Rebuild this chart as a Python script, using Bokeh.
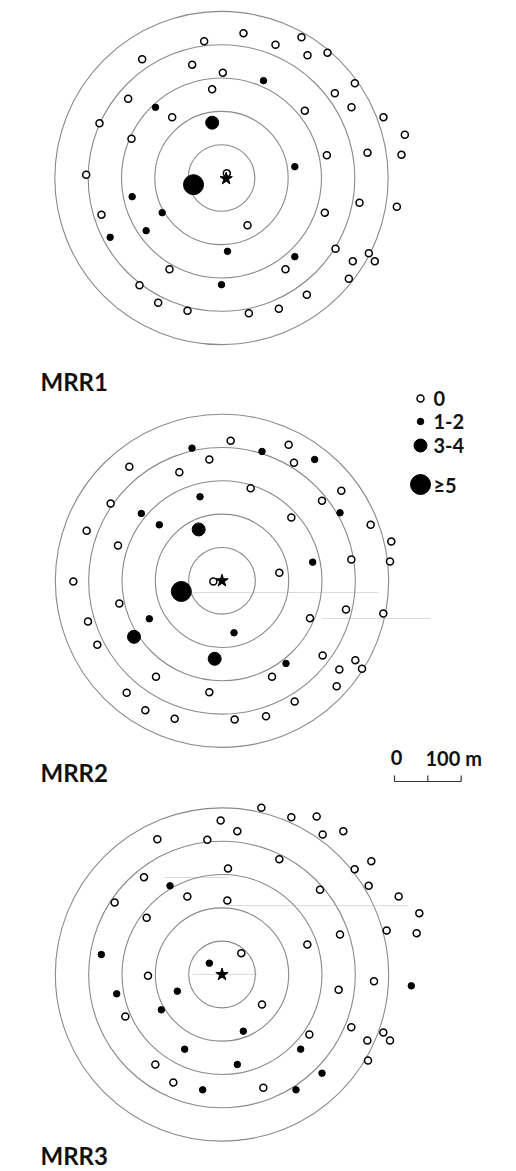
from bokeh.plotting import figure
from bokeh.core.properties import value
from bokeh.embed import file_html
from bokeh.resources import INLINE

# Recapture sites around each release point (metres east, metres north),
# grouped by the number of marked insects recaptured at the site.
RING_RADII_M = [50, 100, 150, 200, 250]

MRR1_0 = [(33, 217), (-26, 205), (2, 158), (-119, 178), (-44, 170), (-14, 133),
          (-140, 119), (-183, 82), (-74, 91), (-135, 59), (-203, 5), (8, 7),
          (120, 211), (81, 200), (129, 184), (159, 188), (200, 142), (170, 127),
          (195, 106), (125, 101), (243, 91), (275, 65), (219, 38), (270, 35),
          (158, 34), (-180, -55), (39, -71), (-78, -137), (-123, -161), (-95, -187),
          (-51, -199), (41, -203), (155, -52), (207, -37), (263, -43), (171, -106),
          (221, -113), (197, -125), (230, -125), (96, -137), (191, -151), (128, -175),
          (86, -196)]
MRR1_1_2 = [(-99, 106), (63, 146), (110, 17), (-134, -28), (-89, -52), (-113, -79),
            (-167, -89), (9, -110), (0, -160), (110, -118)]
MRR1_3_4 = [(-14, 83)]
MRR1_5 = [(-42, -10)]
MRR1_RELEASE = (7, -1)

MRR2_0 = [(13, 210), (100, 204), (108, 177), (-139, 171), (-64, 163), (-19, 182),
          (43, 139), (179, 135), (150, 120), (-167, 116), (104, 95), (-203, 75),
          (223, 84), (-156, 53), (254, 59), (194, 32), (252, 29), (86, 12),
          (-223, -1), (-13, -1), (-154, -34), (-201, -61), (132, -56), (186, -43),
          (242, -49), (-187, -96), (151, -112), (200, -119), (176, -133), (210, -132),
          (-99, -144), (75, -144), (172, -158), (-143, -168), (-19, -167), (109, -181),
          (-115, -194), (-71, -207), (19, -208), (66, -203)]
MRR2_1_2 = [(-45, 199), (60, 194), (139, 182), (-33, 126), (-121, 101), (177, 102),
            (-94, 84), (136, 28), (-109, -57), (18, -78), (96, -124)]
MRR2_3_4 = [(-35, 77), (-132, -84), (-11, -117)]
MRR2_5 = [(-61, -16)]
MRR2_RELEASE = (0, 0)

MRR3_0 = [(59, 250), (104, 236), (142, 237), (-2, 231), (23, 215), (151, 210),
          (182, 215), (-97, 203), (-22, 202), (86, 173), (224, 170), (199, 158),
          (9, 159), (-117, 146), (220, 133), (147, 127), (265, 117), (-52, 117),
          (8, 111), (-161, 108), (296, 92), (-113, 85), (247, 66), (292, 62),
          (177, 60), (128, 45), (29, 32), (-111, -2), (228, -10), (175, -23),
          (60, -45), (-145, -63), (194, -79), (242, -87), (218, -99), (252, -99),
          (131, -90), (-100, -135), (219, -129), (-73, -162), (62, -170)]
MRR3_1_2 = [(-78, 133), (-181, 30), (-19, 17), (284, -17), (-158, -29), (-67, -25),
            (-91, -53), (32, -85), (-56, -112), (118, -112), (23, -135), (150, -148),
            (-29, -173), (111, -173)]
MRR3_3_4 = []
MRR3_5 = []
MRR3_RELEASE = (0, 0)

PANEL_NAMES = ["MRR1", "MRR2", "MRR3"]
LEGEND_LABELS = ["0", "1-2", "3-4", "≥5"]
SCALE_BAR_M = 100

# ---- page geometry: 1 px = 1.5 m on a 516 x 1171 canvas ----
W, H = 516, 1171
M_PER_PX = 1.5


def X(px):
    return px * M_PER_PX


def Y(py):
    return (H - py) * M_PER_PX


FONT = value("Lato")
RING_COLOR = "#8a8a8a"
INK = "#111111"

p = figure(width=W, height=H, x_range=(0, W * M_PER_PX), y_range=(0, H * M_PER_PX),
           x_axis_type=None, y_axis_type=None, output_backend="svg",
           toolbar_location=None, min_border=0)
p.grid.visible = False
p.outline_line_color = None
p.background_fill_color = "white"
p.border_fill_color = "white"

# faint pencil guide strokes left on the sheet (page pixels: y, x0, x1)
GUIDES = [(592, 190, 378), (618, 322, 430), (877, 163, 227), (905, 227, 408), (974, 192, 257)]
for gy, gx0, gx1 in GUIDES:
    p.line([X(gx0), X(gx1)], [Y(gy), Y(gy)], line_color="#dcdcdc", line_width=1)

STYLE = {
    "0": dict(size=7, fill_color="white", line_color="black", line_width=1.5),
    "1-2": dict(size=6.5, fill_color="black", line_color="black", line_width=1),
    "3-4": dict(size=13, fill_color="black", line_color="black", line_width=1),
    "≥5": dict(size=20, fill_color="black", line_color="black", line_width=1),
}

panels = [
    ((221.0, 177.5), MRR1_0, MRR1_1_2, MRR1_3_4, MRR1_5, MRR1_RELEASE, (40, 381)),
    ((221.5, 580.3), MRR2_0, MRR2_1_2, MRR2_3_4, MRR2_5, MRR2_RELEASE, (40, 772)),
    ((221.5, 974.0), MRR3_0, MRR3_1_2, MRR3_3_4, MRR3_5, MRR3_RELEASE, (40, 1155)),
]

for name, (centre, s0, s12, s34, s5, release, lab) in zip(PANEL_NAMES, panels):
    cx, cy = X(centre[0]), Y(centre[1])
    # concentric 50 m distance rings
    p.circle(x=[cx] * len(RING_RADII_M), y=[cy] * len(RING_RADII_M), radius=RING_RADII_M,
             fill_color=None, line_color=RING_COLOR, line_width=1.1)
    for cls, pts in zip(LEGEND_LABELS, [s0, s12, s34, s5]):
        if not pts:
            continue
        xs = [cx + e for e, n in pts]
        ys = [cy + n for e, n in pts]
        p.scatter(xs, ys, marker="circle", **STYLE[cls])
    p.scatter([cx + release[0]], [cy + release[1]], marker="star", size=13,
              fill_color="black", line_color="black")
    p.text([X(lab[0])], [Y(lab[1])], text=[name], text_font=FONT, text_font_style="bold",
           text_font_size="24px", text_baseline="middle", text_align="left",
           text_color=INK)

# legend
leg_x = 420
leg_rows = [398, 421, 445, 484]
for lbl, row in zip(LEGEND_LABELS, leg_rows):
    p.scatter([X(leg_x)], [Y(row)], marker="circle", **STYLE[lbl])
    p.text([X(leg_x + 13)], [Y(row)], text=[lbl], text_font=FONT, text_font_style="bold",
           text_font_size="20px", text_baseline="middle", text_align="left",
           text_color=INK)

# scale bar (100 m, with a tick every 50 m)
sb_x0, sb_y = X(394), Y(781)
p.line([sb_x0, sb_x0 + SCALE_BAR_M], [sb_y, sb_y], line_color="#333333", line_width=1.2)
tick = 6 * M_PER_PX
for t in [0, SCALE_BAR_M / 2, SCALE_BAR_M]:
    p.line([sb_x0 + t, sb_x0 + t], [sb_y, sb_y + tick], line_color="#333333", line_width=1.2)
p.text([sb_x0 + 3], [Y(757)], text=["0"], text_font=FONT, text_font_style="bold",
       text_font_size="20px", text_baseline="middle", text_align="center", text_color=INK)
p.text([X(425)], [Y(757)], text=["100 m"], text_font=FONT,
       text_font_style="bold", text_font_size="20px", text_baseline="middle", text_align="left",
       text_color=INK)

open("out.html", "w").write(file_html(p, INLINE))
